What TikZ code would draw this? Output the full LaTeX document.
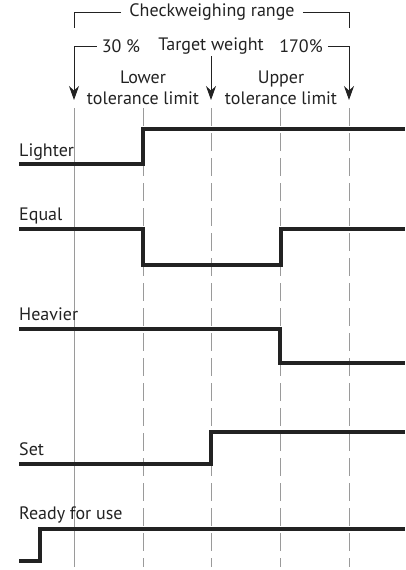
\documentclass[tikz,border=0pt]{standalone}
\usepackage{fontspec}
\setmainfont{PT Sans}
\usetikzlibrary{positioning,arrows.meta}
\definecolor{gridgrey}{HTML}{9A9A9A}
\definecolor{inkgrey}{HTML}{222222}
\begin{document}
\begin{tikzpicture}[
  x=1pt,y=-1pt,
  font=\fontsize{18}{21}\selectfont,
  text=inkgrey,
  signal/.style={line width=4pt,inkgrey,line join=miter},
  gridline/.style={gridgrey,line width=1pt},
  dashgrid/.style={gridline,dash pattern=on 18pt off 7pt},
  bracket/.style={line width=0.9pt,inkgrey},
  arr/.style={bracket,-{Stealth[length=14pt,width=10pt]}},
  toplabel/.style={inner xsep=5pt,inner ysep=2pt},
  limitlabel/.style={align=center,inner sep=0pt},
  siglabel/.style={anchor=base west,inner sep=0pt},
]
\useasboundingbox (0,0) rectangle (406,570);

% Time marks
\coordinate (m0) at (74,100);
\coordinate (m2) at (211,100);
\coordinate (m4) at (349,100);
\draw[gridline] (74,108) -- (74,567);
\draw[dashgrid] (143,108) -- (143,567);
\draw[dashgrid] (211,108) -- (211,567);
\draw[dashgrid] (280,108) -- (280,567);
\draw[dashgrid] (349,108) -- (349,567);

% Checkweighing range bracket
\node[toplabel,inner xsep=8pt] (range) at (212,12) {Checkweighing range};
\draw[bracket] (range.west) -| (74,28);
\draw[bracket] (range.east) -| (349,28);

% Percent labels and arrows
\node[toplabel] (pct30)  at (121,46) {30 \%};
\node[toplabel] (target) at (211,46) {Target weight};
\node[toplabel] (pct170) at (301,46) {170\%};
\draw[arr] (pct30.west) -| (m0);
\draw[arr] (pct170.east) -| (m4);
\draw[arr] (target.south) -- (m2);
\node[limitlabel] (lower) at (143,88) {Lower\\tolerance limit};
\node[limitlabel] (upper) at (281,88) {Upper\\tolerance limit};

% Signals
\node[siglabel] (lighter) at (19,156) {Lighter};
\draw[signal] (19,164) -- (143,164) -- (143,129) -- (405,129);
\node[siglabel] (equal) at (19,220) {Equal};
\draw[signal] (19,229) -- (143,229) -- (143,265) -- (281,265) -- (281,229) -- (405,229);
\node[siglabel] (heavier) at (19,320) {Heavier};
\draw[signal] (19,329) -- (280,329) -- (280,363) -- (405,363);
\node[siglabel] (set) at (19,455) {Set};
\draw[signal] (19,464) -- (211,464) -- (211,432) -- (405,432);
\node[siglabel] (ready) at (19,519) {Ready for use};
\draw[signal] (19,561) -- (40,561) -- (40,529) -- (405,529);
\end{tikzpicture}
\end{document}
